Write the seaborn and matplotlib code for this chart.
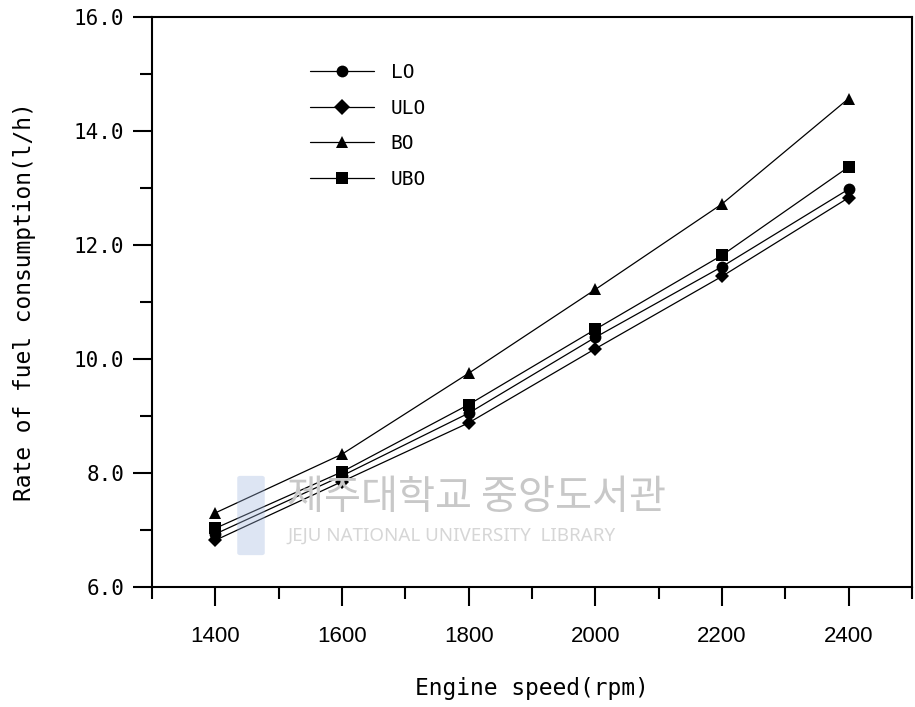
import matplotlib
matplotlib.use("Agg")
import matplotlib.pyplot as plt
import seaborn as sns
import pandas as pd
from matplotlib.ticker import MultipleLocator

speeds = [1400, 1600, 1800, 2000, 2200, 2400]
series_names = ["LO", "ULO", "BO", "UBO"]
lo = [6.93, 7.95, 9.05, 10.38, 11.62, 12.98]
ulo = [6.82, 7.85, 8.88, 10.18, 11.45, 12.83]
bo = [7.30, 8.33, 9.75, 11.22, 12.72, 14.57]
ubo = [7.03, 8.02, 9.20, 10.52, 11.82, 13.37]
y_ticks = [6.0, 8.0, 10.0, 12.0, 14.0, 16.0]
x_ticks = [1400, 1600, 1800, 2000, 2200, 2400]

rows = []
for name, vals in zip(series_names, [lo, ulo, bo, ubo]):
    for s, v in zip(speeds, vals):
        rows.append({"speed": s, "rate": v, "oil": name})
df = pd.DataFrame(rows)

sns.set_theme(style="white")
plt.rcParams["font.family"] = ["DejaVu Sans"]
plt.rcParams["text.color"] = "black"
plt.rcParams["axes.labelcolor"] = "black"
plt.rcParams["xtick.color"] = "black"
plt.rcParams["ytick.color"] = "black"

fig = plt.figure(figsize=(9.15, 7.07), dpi=100)
ax = fig.add_axes([152/915, 1-587/707, (912-152)/915, (587-17)/707])

markers = {"LO": "o", "ULO": "D", "BO": "^", "UBO": "s"}
sizes = {"LO": 8.5, "ULO": 6.8, "BO": 8.5, "UBO": 8.2}
palette = {k: "black" for k in series_names}
sns.lineplot(data=df, x="speed", y="rate", hue="oil", style="oil",
             hue_order=series_names, style_order=series_names,
             markers=markers, dashes=False, palette=palette,
             linewidth=0.9, markersize=8.5, markeredgewidth=0, ax=ax)
for line, name in zip(ax.get_lines(), series_names):
    line.set_markersize(sizes[name])

ax.set_xlim(1300, 2500)
ax.set_ylim(6.0, 16.0)
ax.set_xticks(x_ticks)
ax.set_yticks(y_ticks)
ax.xaxis.set_minor_locator(MultipleLocator(100))
ax.yaxis.set_minor_locator(MultipleLocator(1.0))
ax.set_yticklabels([f"{v:.1f}" for v in y_ticks], family="DejaVu Sans Mono", fontsize=15)
ax.set_xticklabels([str(v) for v in x_ticks], family="Liberation Sans", fontsize=16)

ax.tick_params(axis="both", which="major", direction="out", length=14, width=1.5,
               colors="black", bottom=True, left=True, top=False, right=False)
ax.tick_params(axis="both", which="minor", direction="out", length=8.5, width=1.5,
               colors="black", bottom=True, left=True, top=False, right=False)
ax.tick_params(axis="x", which="major", pad=14)
ax.tick_params(axis="y", which="major", pad=6)
for sp in ax.spines.values():
    sp.set_visible(True)
    sp.set_color("black")
    sp.set_linewidth(1.5)

ax.set_xlabel("Engine speed(rpm)", family="DejaVu Sans Mono", fontsize=16.5,
              labelpad=22, color="black")
ax.set_ylabel("Rate of fuel consumption(l/h)", family="DejaVu Sans Mono", fontsize=16.5,
              labelpad=27, color="black")

handles, labels = ax.get_legend_handles_labels()
leg = ax.legend(handles, labels, loc="upper left", bbox_to_anchor=(0.185, 0.95),
                frameon=False, prop={"family": "DejaVu Sans Mono", "size": 14},
                handlelength=3.3, handletextpad=0.85, labelspacing=0.85)
for t in leg.get_texts():
    t.set_color("black")

# watermark
fig.patches.append(matplotlib.patches.FancyBboxPatch(
    (240/915, 1-553/707), 22/915, 75/707, boxstyle="round,pad=0.003",
    transform=fig.transFigure, facecolor="#9fb6de", edgecolor="none", alpha=0.35, zorder=0))
fig.text(287/915, 1-498/707, "제주대학교 중앙도서관", family=["Noto Sans CJK KR", "DejaVu Sans"],
         fontsize=29, color="#c8c8c8", va="center", ha="left", zorder=0)
fig.text(287/915, 1-536/707, "JEJU NATIONAL UNIVERSITY  LIBRARY", family=["Noto Sans", "DejaVu Sans"],
         fontsize=13.5, color="#d6d6d6", va="center", ha="left", zorder=0)

fig.savefig("out.png", dpi=100)
